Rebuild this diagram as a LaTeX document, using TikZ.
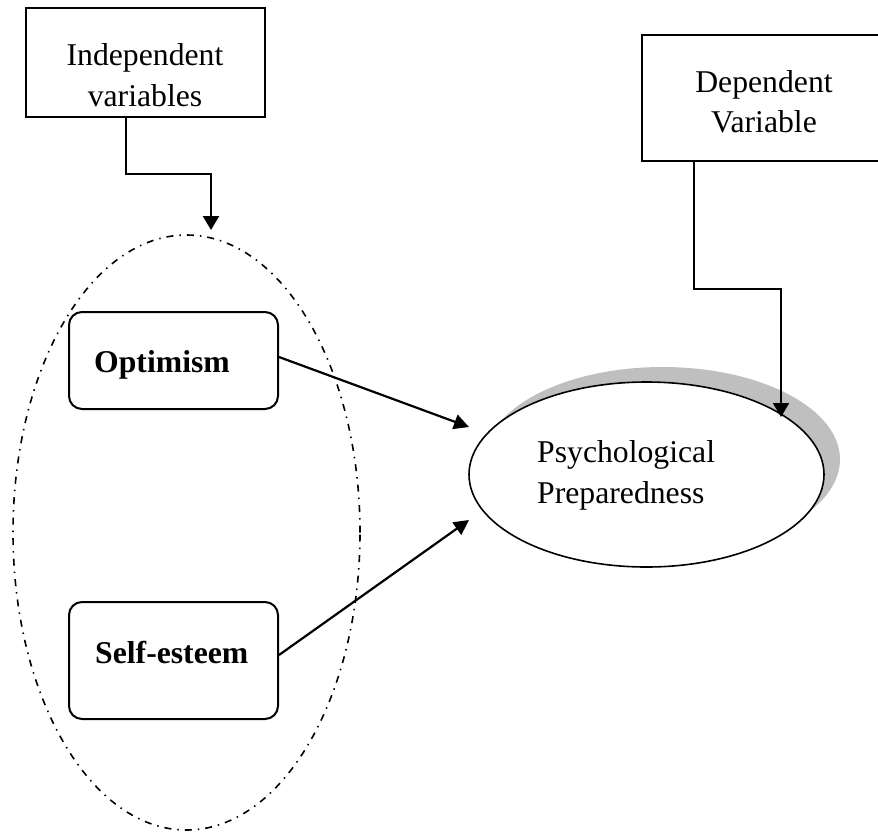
\documentclass[tikz,border=0pt]{standalone}
\usepackage{fontspec}
\setmainfont{Liberation Serif}
\usetikzlibrary{arrows.meta,shapes.geometric}
\tikzset{
  txt/.style={inner sep=0pt, font=\fontsize{31.7}{41}\selectfont},
  btxt/.style={txt, font=\fontsize{31.7}{41}\selectfont\bfseries},
  sqbox/.style={draw, line width=2pt, rectangle, inner sep=0pt},
  rbox/.style={draw, line width=2pt, rectangle, rounded corners=13pt, inner sep=0pt, minimum width=209pt},
  conn/.style={line width=2.2pt, -{Triangle[length=15pt,width=15pt]}},
  elbow/.style={line width=2.2pt, -{Triangle[length=14pt,width=16pt]}},
}
\begin{document}
\begin{tikzpicture}[x=1pt,y=-1pt]
\useasboundingbox (0,0) rectangle (878,831);
\clip (0,0) rectangle (878,831);
% group ellipse
\node[draw, ellipse, line width=1.6pt, dash pattern=on 7pt off 6pt on 1.5pt off 6pt,
      minimum width=347pt, minimum height=595pt, inner sep=0pt] (grp) at (186.5,532.5) {};
% boxes
\node[sqbox, minimum width=239pt, minimum height=109pt] (iv) at (145.5,62.5) {};
\node[txt, anchor=base] at (145,65) {Independent};
\node[txt, anchor=base] at (145,106) {variables};
\node[sqbox, minimum width=244pt, minimum height=126pt] (dv) at (764,98) {};
\node[txt, anchor=base] at (764,92) {Dependent};
\node[txt, anchor=base] at (764,132) {Variable};
\node[rbox, minimum height=97pt] (opt) at (173.5,360.5) {};
\node[btxt, anchor=base west] at (94,372) {Optimism};
\node[rbox, minimum height=117pt] (self) at (173.5,660.5) {};
\node[btxt, anchor=base west] at (95,663) {Self-esteem};
% outcome ellipse with shadow
\fill[gray!50] (662.5,459.5) ellipse [x radius=177.5, y radius=92.5];
\node[draw, ellipse, fill=white, line width=1.6pt, minimum width=355pt, minimum height=185pt, inner sep=0pt] (pp) at (646.5,474.5) {};
\node[txt, anchor=base west] at (537,462) {Psychological};
\node[txt, anchor=base west] at (537,503) {Preparedness};
% connector ends
\coordinate (ivend) at (211,230);
\coordinate (dvend) at (781,417);
\coordinate (optend) at (469,427);
\coordinate (selfend) at (469,520);
% connectors
\draw[elbow] ([xshift=-19.5pt]iv.south) -- ++(0,56) -| (ivend);
\draw[elbow] ([xshift=-70pt]dv.south) -- ++(0,127) -| (dvend);
\draw[conn] ([yshift=3.5pt]opt.east) -- (optend);
\draw[conn] ([yshift=5.5pt]self.east) -- (selfend);
\end{tikzpicture}
\end{document}
